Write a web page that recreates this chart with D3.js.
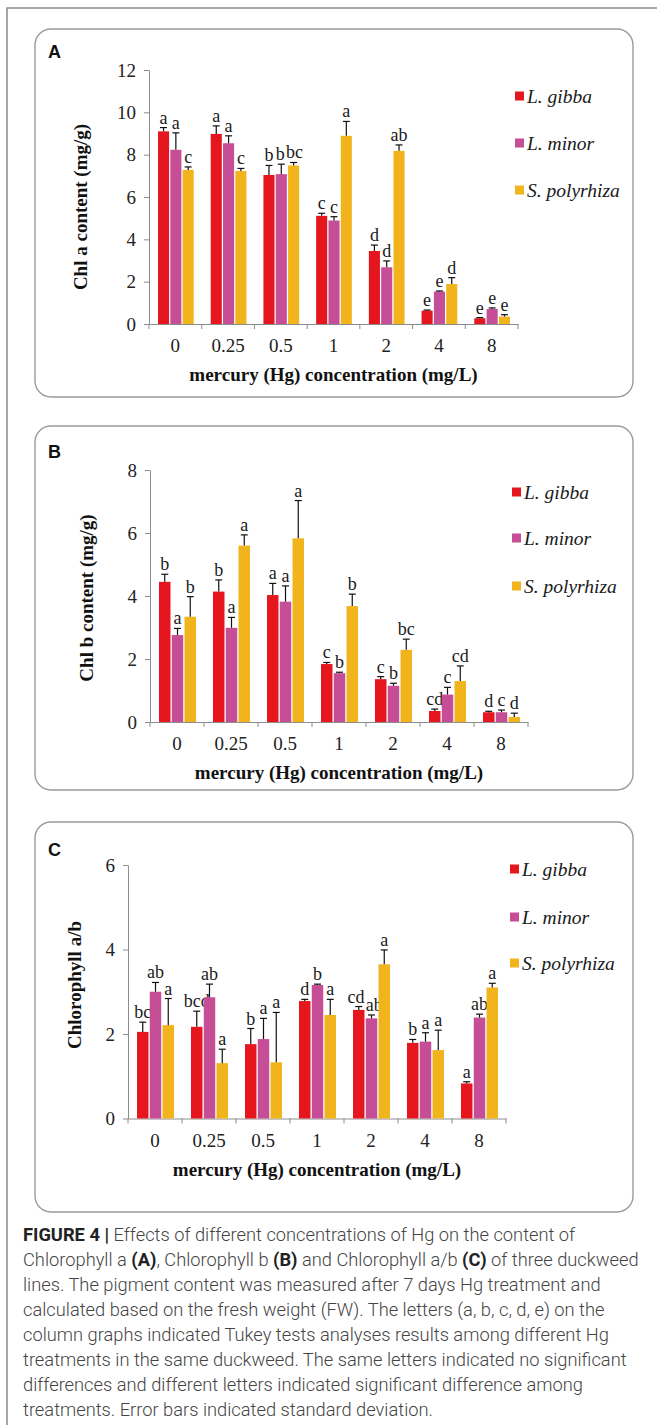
<!DOCTYPE html>
<html>
<head>
<meta charset="utf-8">
<script src="https://cdn.jsdelivr.net/npm/d3@7"></script>
<style>
  html, body { margin: 0; padding: 0; background: #fff; }
  svg { display: block; }
</style>
</head>
<body>
<svg id="fig" width="657" height="1425"></svg>
<script>
const concentrations = ['0', '0.25', '0.5', '1', '2', '4', '8']
const species = ['L. gibba', 'L. minor', 'S. polyrhiza']
const speciesColors = ['#e6161e', '#c64e97', '#f1b41d']

// chlorophyll a, mg/g (rows = species)
const chlaMean = [
  [9.1, 8.98, 7.04, 5.11, 3.45, 0.63, 0.27],
  [8.23, 8.54, 7.08, 4.89, 2.68, 1.53, 0.71],
  [7.28, 7.23, 7.49, 8.89, 8.18, 1.89, 0.35]
]
const chlaSd = [
  [0.18, 0.38, 0.45, 0.12, 0.28, 0.03, 0.03],
  [0.8, 0.35, 0.47, 0.18, 0.3, 0.03, 0.05],
  [0.14, 0.12, 0.14, 0.68, 0.28, 0.3, 0.09]
]
const chlaLetters = [
  ['a', 'a', 'b', 'c', 'd', 'e', 'e'],
  ['a', 'a', 'b', 'c', 'd', 'e', 'e'],
  ['c', 'c', 'bc', 'a', 'ab', 'd', 'e']
]
const chlaTicks = [0, 2, 4, 6, 8, 10, 12]

// chlorophyll b, mg/g
const chlbMean = [
  [4.45, 4.14, 4.03, 1.84, 1.36, 0.35, 0.31],
  [2.76, 2.99, 3.82, 1.55, 1.15, 0.87, 0.31],
  [3.34, 5.6, 5.83, 3.68, 2.29, 1.3, 0.16]
]
const chlbSd = [
  [0.24, 0.37, 0.37, 0.05, 0.08, 0.06, 0.03],
  [0.21, 0.33, 0.5, 0.03, 0.08, 0.23, 0.07],
  [0.64, 0.34, 1.2, 0.38, 0.34, 0.48, 0.12]
]
const chlbLetters = [
  ['b', 'b', 'a', 'c', 'c', 'cd', 'd'],
  ['a', 'a', 'a', 'b', 'b', 'c', 'c'],
  ['b', 'a', 'a', 'b', 'bc', 'cd', 'd']
]
const chlbTicks = [0, 2, 4, 6, 8]

// chlorophyll a/b ratio
const ratioMean = [
  [2.05, 2.17, 1.76, 2.78, 2.57, 1.79, 0.83],
  [3.0, 2.87, 1.88, 3.16, 2.37, 1.82, 2.39],
  [2.21, 1.31, 1.33, 2.45, 3.65, 1.62, 3.1]
]
const ratioSd = [
  [0.23, 0.37, 0.37, 0.04, 0.08, 0.08, 0.04],
  [0.22, 0.31, 0.49, 0.02, 0.08, 0.21, 0.08],
  [0.63, 0.33, 1.18, 0.37, 0.34, 0.47, 0.1]
]
const ratioLetters = [
  ['bc', 'bcd', 'b', 'd', 'cd', 'b', 'a'],
  ['ab', 'ab', 'a', 'b', 'ab', 'a', 'ab'],
  ['a', 'a', 'a', 'a', 'a', 'a', 'a']
]
const ratioTicks = [0, 2, 4, 6]

const captionLines = [
  [['FIGURE 4 |', true], [' Effects of different concentrations of Hg on the content of', false]],
  [['Chlorophyll a ', false], ['(A)', true], [', Chlorophyll b ', false], ['(B)', true],
   [' and Chlorophyll a/b ', false], ['(C)', true], [' of three duckweed', false]],
  [['lines. The pigment content was measured after 7 days Hg treatment and', false]],
  [['calculated based on the fresh weight (FW). The letters (a, b, c, d, e) on the', false]],
  [['column graphs indicated Tukey tests analyses results among different Hg', false]],
  [['treatments in the same duckweed. The same letters indicated no significant', false]],
  [['differences and different letters indicated significant difference among', false]],
  [['treatments. Error bars indicated standard deviation.', false]]
]

const serif = '"Liberation Serif", "Times New Roman", serif'
const sans = '"Liberation Sans", Arial, sans-serif'
const axisGrey = '#8c8c8c'

const svg = d3.select('#fig')

// outer page frame
svg.append('path')
  .attr('d', 'M7,1425V8H657')
  .attr('fill', 'none')
  .attr('stroke', '#8a8a8a')
  .attr('stroke-width', 1.5)

function drawPanel(p) {
  let g = svg.append('g')

  g.append('rect')
    .attr('x', 35).attr('y', p.boxTop)
    .attr('width', 598).attr('height', p.boxBottom - p.boxTop)
    .attr('rx', 16).attr('ry', 16)
    .attr('fill', '#fff')
    .attr('stroke', '#9a9a9a')
    .attr('stroke-width', 1.4)

  g.append('text')
    .attr('x', 48).attr('y', p.letterY)
    .attr('font-family', sans).attr('font-weight', 'bold').attr('font-size', 18)
    .attr('fill', '#111')
    .text(p.letter)

  let y = d3.scaleLinear().domain([0, d3.max(p.ticks)]).range([p.y0, p.yTop])
  let x = d3.scaleBand().domain(concentrations).range([p.x0, p.x1])
  let sub = d3.scaleBand().domain(d3.range(species.length))
    .range([9, x.bandwidth() - 8]).paddingInner(0.1)

  // y axis
  let yAxis = g.append('g')
    .attr('transform', `translate(${p.x0},0)`)
    .call(d3.axisLeft(y).tickValues(p.ticks).tickFormat(d3.format('d'))
      .tickSize(5).tickSizeOuter(0).tickPadding(8))
  yAxis.select('.domain').attr('stroke', axisGrey)
  yAxis.selectAll('.tick line').attr('stroke', axisGrey)
  yAxis.selectAll('.tick text')
    .attr('font-family', serif).attr('font-size', 19).attr('fill', '#222')

  // x axis, labels from the band scale, ticks on band edges
  let xAxis = g.append('g')
    .attr('transform', `translate(0,${p.y0})`)
    .call(d3.axisBottom(x).tickSize(0).tickSizeOuter(0).tickPadding(15))
  xAxis.select('.domain').attr('stroke', axisGrey)
  xAxis.selectAll('.tick text')
    .attr('font-family', serif).attr('font-size', 19).attr('fill', '#222')
  let edges = concentrations.map(c => x(c)).concat([x.range()[1]])
  g.append('g').selectAll('line')
    .data(edges)
    .join('line')
    .attr('x1', d => d).attr('x2', d => d)
    .attr('y1', p.y0).attr('y2', p.y0 + 5)
    .attr('stroke', axisGrey)

  // bars, error bars, letters
  species.forEach((sp, si) => {
    let rows = concentrations.map((c, ci) => ({
      c: c,
      ci: ci,
      mean: p.mean[si][ci],
      sd: p.sd[si][ci],
      letter: p.letters[si][ci]
    }))
    let sg = g.append('g')
    let bx = d => x(d.c) + sub(si)
    let cx = d => bx(d) + sub.bandwidth() / 2

    sg.selectAll('rect')
      .data(rows)
      .join('rect')
      .attr('x', bx)
      .attr('y', d => y(d.mean))
      .attr('width', sub.bandwidth())
      .attr('height', d => p.y0 - y(d.mean))
      .attr('fill', speciesColors[si])

    sg.selectAll('line.err')
      .data(rows)
      .join('line')
      .attr('class', 'err')
      .attr('x1', cx).attr('x2', cx)
      .attr('y1', d => y(d.mean)).attr('y2', d => y(d.mean + d.sd))
      .attr('stroke', '#111').attr('stroke-width', 1.2)

    sg.selectAll('line.cap')
      .data(rows)
      .join('line')
      .attr('class', 'cap')
      .attr('x1', d => cx(d) - 3.5).attr('x2', d => cx(d) + 3.5)
      .attr('y1', d => y(d.mean + d.sd)).attr('y2', d => y(d.mean + d.sd))
      .attr('stroke', '#111').attr('stroke-width', 1.2)

    sg.selectAll('text.sig')
      .data(rows)
      .join('text')
      .attr('class', 'sig')
      .attr('x', cx)
      .attr('y', d => y(d.mean + d.sd) - 4)
      .attr('text-anchor', 'middle')
      .attr('font-family', serif).attr('font-size', 18).attr('fill', '#1a1a1a')
      .text(d => d.letter)
  })

  // nudge neighbouring letters apart when they collide (like excel does)
  concentrations.forEach((c, ci) => {
    let labels = g.selectAll('text.sig').filter(d => d.ci === ci).nodes()
    for (let k = 1; k < labels.length; k++) {
      let a = labels[k - 1].getBBox()
      let b = labels[k].getBBox()
      let ox = a.x + a.width - b.x
      let oy = Math.min(a.y + a.height, b.y + b.height) - Math.max(a.y, b.y)
      if (ox > 0 && oy > 0) {
        let half = ox / 2 + 0.6
        labels[k - 1].setAttribute('x', +labels[k - 1].getAttribute('x') - half)
        labels[k].setAttribute('x', +labels[k].getAttribute('x') + half)
      }
    }
  })

  // legend
  let leg = g.append('g').selectAll('g')
    .data(species)
    .join('g')
    .attr('transform', (d, i) => `translate(${p.legX},${p.legY[i]})`)
  leg.append('rect')
    .attr('x', 0).attr('y', -4.5).attr('width', 9).attr('height', 9)
    .attr('fill', (d, i) => speciesColors[i])
  leg.append('text')
    .attr('x', 12).attr('y', 7)
    .attr('font-family', serif).attr('font-style', 'italic').attr('font-size', 19.5)
    .attr('fill', '#1a1a1a')
    .text(d => d)

  // axis titles
  g.append('text')
    .attr('x', (p.x0 + p.x1) / 2).attr('y', p.y0 + 57)
    .attr('text-anchor', 'middle')
    .attr('font-family', serif).attr('font-weight', 'bold').attr('font-size', 19)
    .attr('fill', '#111')
    .text('mercury (Hg) concentration (mg/L)')

  g.append('text')
    .attr('transform', `translate(${p.yTitleX},${p.yTitleY}) rotate(-90)`)
    .attr('text-anchor', 'middle')
    .attr('dominant-baseline', 'central')
    .attr('font-family', serif).attr('font-weight', 'bold').attr('font-size', 19)
    .attr('fill', '#111')
    .text(p.yTitle)
}

drawPanel({
  letter: 'A', letterY: 58, boxTop: 29, boxBottom: 397,
  x0: 149, x1: 518, y0: 324, yTop: 70,
  ticks: chlaTicks, mean: chlaMean, sd: chlaSd, letters: chlaLetters,
  legX: 515, legY: [96, 143, 190],
  yTitle: 'Chl a content (mg/g)', yTitleX: 80, yTitleY: 207
})

drawPanel({
  letter: 'B', letterY: 458, boxTop: 426, boxBottom: 790,
  x0: 150, x1: 528, y0: 722, yTop: 470,
  ticks: chlbTicks, mean: chlbMean, sd: chlbSd, letters: chlbLetters,
  legX: 512, legY: [492, 538, 586],
  yTitle: 'Chl b content (mg/g)', yTitleX: 86, yTitleY: 598
})

drawPanel({
  letter: 'C', letterY: 856, boxTop: 822, boxBottom: 1212,
  x0: 128, x1: 506, y0: 1118.5, yTop: 865,
  ticks: ratioTicks, mean: ratioMean, sd: ratioSd, letters: ratioLetters,
  legX: 510, legY: [869, 917, 963],
  yTitle: 'Chlorophyll a/b', yTitleX: 74, yTitleY: 985
})

// caption
let cap = svg.append('g')
captionLines.forEach((line, i) => {
  let t = cap.append('text')
    .attr('x', 23).attr('y', 1241 + i * 25)
    .attr('font-family', 'Roboto, "Liberation Sans", sans-serif')
    .attr('font-size', 18.3)
  line.forEach(seg => {
    t.append('tspan')
      .attr('font-weight', seg[1] ? 700 : 300)
      .attr('fill', seg[1] ? '#222' : '#444')
      .text(seg[0])
  })
})
</script>
</body>
</html>
